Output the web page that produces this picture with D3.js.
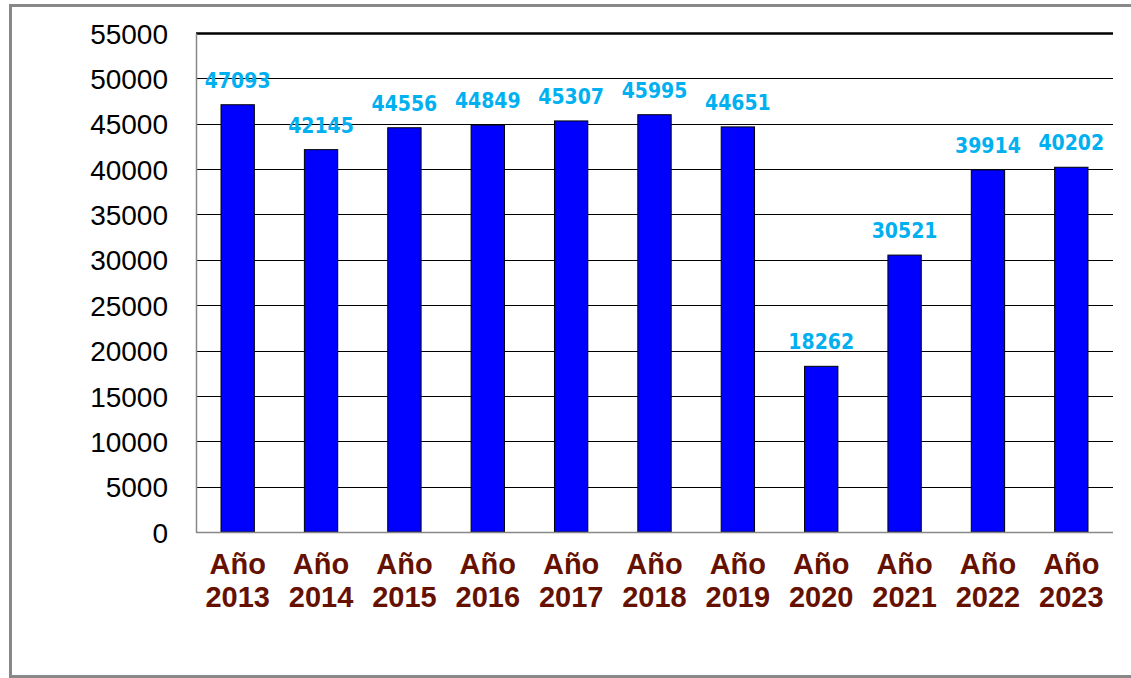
<!DOCTYPE html>
<html>
<head>
<meta charset="utf-8">
<script src="https://cdn.jsdelivr.net/npm/d3@7"></script>
<style>
  html, body { margin: 0; padding: 0; background: #fff; }
  svg { display: block; }
</style>
</head>
<body>
<svg id="chart"></svg>
<script>
'use strict';
(function() {
  var years = ["2013", "2014", "2015", "2016", "2017", "2018", "2019", "2020", "2021", "2022", "2023"];
  var values = [47093, 42145, 44556, 44849, 45307, 45995, 44651, 18262, 30521, 39914, 40202];
  var yTicks = [0, 5000, 10000, 15000, 20000, 25000, 30000, 35000, 40000, 45000, 50000, 55000];

  var data = years.map(function(y, i) {
    return { year: y, value: values[i] };
  });

  var W = 1131, H = 678;
  var margin = { top: 33, right: 18, bottom: 146, left: 196 };
  var width = W - margin.left - margin.right,
    height = H - margin.top - margin.bottom;

  var svg = d3.select("#chart")
    .attr("width", W)
    .attr("height", H);

  // outer frame (right side runs off the picture)
  svg.append("rect")
    .attr("x", 10.5)
    .attr("y", 5.5)
    .attr("width", 1130)
    .attr("height", 671)
    .attr("fill", "none")
    .attr("stroke", "#888")
    .attr("stroke-width", 3);

  var x = d3.scaleBand()
    .domain(years)
    .range([0, width])
    .paddingInner(0.6)
    .paddingOuter(0.3);
  var y = d3.scaleLinear()
    .domain([0, 55000])
    .range([height, 0]);

  var g = svg.append("g")
    .attr("transform", "translate(" + margin.left + "," + margin.top + ")");

  // gridlines
  g.selectAll(".grid")
    .data(yTicks.filter(function(t) { return t > 0; }))
    .enter().append("line")
    .attr("class", "grid")
    .attr("x1", 0)
    .attr("x2", width)
    .attr("y1", function(d) { return Math.round(y(d)) + 0.5; })
    .attr("y2", function(d) { return Math.round(y(d)) + 0.5; })
    .attr("stroke", "#000")
    .attr("stroke-width", function(d) { return d === 55000 ? 2.5 : 1; });

  // y axis
  var yAxis = g.append("g")
    .call(d3.axisLeft(y).tickValues(yTicks).tickSize(0).tickPadding(28).tickFormat(d3.format("d")));
  yAxis.select(".domain").attr("stroke", "#888").attr("stroke-width", 1.5);
  yAxis.selectAll("text")
    .attr("dy", "0.36em")
    .style("font-family", "'Liberation Sans', Arial, sans-serif")
    .style("font-size", "28px")
    .attr("fill", "#000");

  // bars
  g.selectAll(".bar")
    .data(data)
    .enter().append("rect")
    .attr("class", "bar")
    .attr("x", function(d) { return x(d.year); })
    .attr("width", x.bandwidth())
    .attr("y", function(d) { return y(d.value); })
    .attr("height", function(d) { return height - y(d.value); })
    .attr("fill", "#0000ff")
    .attr("stroke", "#000")
    .attr("stroke-width", 1);

  // bottom axis line
  g.append("line")
    .attr("x1", 0)
    .attr("x2", width)
    .attr("y1", height + 0.5)
    .attr("y2", height + 0.5)
    .attr("stroke", "#888")
    .attr("stroke-width", 1.5);

  // value labels
  g.selectAll(".lbl")
    .data(data)
    .enter().append("text")
    .attr("class", "lbl")
    .attr("x", function(d) { return x(d.year) + x.bandwidth() / 2; })
    .attr("y", function(d) { return y(d.value) - 17; })
    .attr("text-anchor", "middle")
    .style("font-family", "'DejaVu Sans Condensed', 'DejaVu Sans', sans-serif")
    .style("font-weight", "bold")
    .style("font-size", "21px")
    .attr("fill", "#00b0f0")
    .text(function(d) { return d.value; });

  // category labels
  var cat = g.selectAll(".cat")
    .data(data)
    .enter().append("text")
    .attr("class", "cat")
    .attr("text-anchor", "middle")
    .style("font-family", "'Liberation Sans', Arial, sans-serif")
    .style("font-weight", "bold")
    .style("font-size", "29px")
    .attr("fill", "#661100");
  cat.append("tspan")
    .attr("x", function(d) { return x(d.year) + x.bandwidth() / 2; })
    .attr("y", height + 42)
    .text("Año");
  cat.append("tspan")
    .attr("x", function(d) { return x(d.year) + x.bandwidth() / 2; })
    .attr("y", height + 75)
    .text(function(d) { return d.year; });
})();
</script>
</body>
</html>
